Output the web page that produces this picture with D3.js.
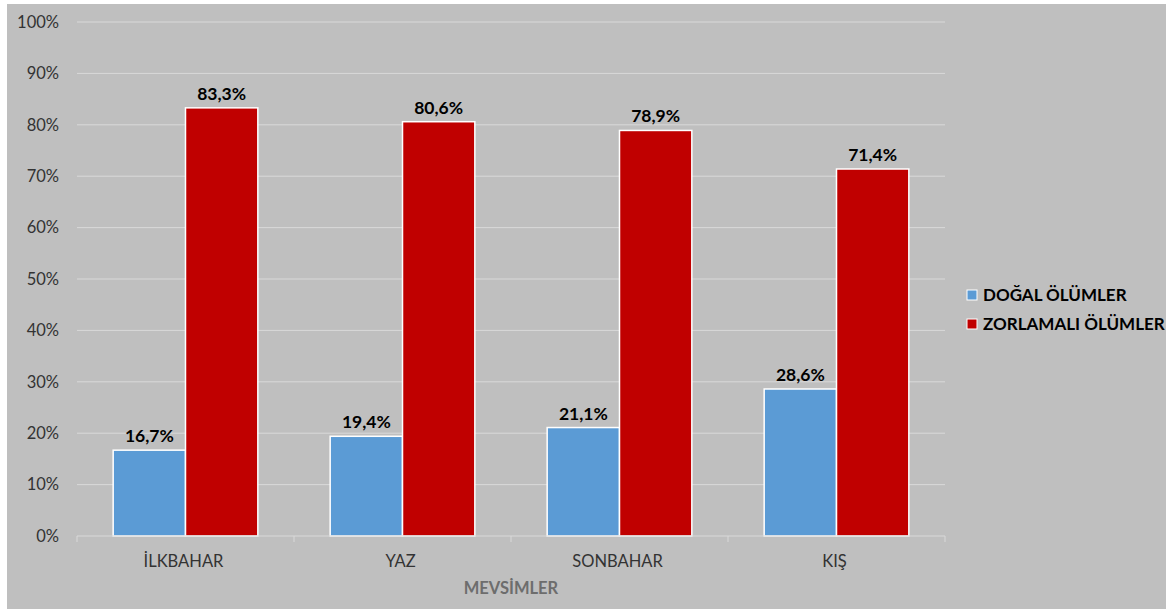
<!DOCTYPE html>
<html>
<head>
<meta charset="utf-8">
<script src="https://cdn.jsdelivr.net/npm/d3@7"></script>
<style>
  html, body { margin: 0; padding: 0; background: #ffffff; }
  svg { display: block; }
  text { font-family: Lato, "Open Sans", sans-serif; }
</style>
</head>
<body>
<svg id="chart" width="1166" height="611"></svg>
<script>
// Seasons and share of deaths by type (%)
const categories = ["İLKBAHAR", "YAZ", "SONBAHAR", "KIŞ"];
const seriesNames = ["DOĞAL ÖLÜMLER", "ZORLAMALI ÖLÜMLER"];
const naturalDeaths = [16.7, 19.4, 21.1, 28.6];
const forcedDeaths = [83.3, 80.6, 78.9, 71.4];
const yTicks = [0, 10, 20, 30, 40, 50, 60, 70, 80, 90, 100];
const colors = ["#5b9bd5", "#c00000"];

const series = [naturalDeaths, forcedDeaths];
const fmt = v => v.toFixed(1).replace(".", ",") + "%";

const svg = d3.select("#chart");

// chart area background
svg.append("rect")
  .attr("x", 7).attr("y", 4)
  .attr("width", 1159).attr("height", 605)
  .attr("fill", "#bfbfbf");

const plot = { left: 77, right: 945, top: 22, bottom: 536 };

const x = d3.scaleBand()
  .domain(categories)
  .range([plot.left, plot.right])
  .paddingInner(0)
  .paddingOuter(0);

const x1 = d3.scaleBand()
  .domain(d3.range(series.length))
  .range([0, x.bandwidth()])
  .paddingInner(0)
  .paddingOuter(0.5);

const y = d3.scaleLinear()
  .domain([0, 100])
  .range([plot.bottom, plot.top]);

// horizontal gridlines
svg.append("g")
  .selectAll("line")
  .data(yTicks.filter(t => t > 0))
  .join("line")
  .attr("x1", plot.left).attr("x2", plot.right)
  .attr("y1", d => y(d)).attr("y2", d => y(d))
  .attr("stroke", "#d9d9d9")
  .attr("stroke-width", 1);

// y axis labels
const yAxis = d3.axisLeft(y)
  .tickValues(yTicks)
  .tickFormat(d => d + "%")
  .tickSize(0)
  .tickPadding(18);

svg.append("g")
  .attr("transform", `translate(${plot.left},0)`)
  .call(yAxis)
  .call(g => g.select(".domain").remove())
  .call(g => g.selectAll("text")
    .attr("font-size", 16.5)
    .attr("fill", "#333333")
    .style("font-family", "Lato, 'Open Sans', sans-serif"));

// bars
const groups = svg.append("g")
  .selectAll("g")
  .data(categories)
  .join("g")
  .attr("transform", d => `translate(${x(d)},0)`);

groups.selectAll("rect")
  .data((d, i) => series.map((s, k) => ({ k, v: s[i] })))
  .join("rect")
  .attr("x", d => x1(d.k))
  .attr("width", x1.bandwidth())
  .attr("y", d => y(d.v))
  .attr("height", d => y(0) - y(d.v))
  .attr("fill", d => colors[d.k])
  .attr("stroke", "#ffffff")
  .attr("stroke-width", 1.5);

// value labels
groups.selectAll("text.val")
  .data((d, i) => series.map((s, k) => ({ k, v: s[i] })))
  .join("text")
  .attr("class", "val")
  .attr("x", d => x1(d.k) + x1.bandwidth() / 2)
  .attr("y", d => y(d.v) - 8)
  .attr("text-anchor", "middle")
  .attr("font-size", 17.5)
  .attr("font-weight", "bold")
  .attr("fill", "#000000")
  .text(d => fmt(d.v));

// x axis: baseline, category boundary ticks, labels
const xAxisG = svg.append("g");
xAxisG.append("line")
  .attr("x1", plot.left).attr("x2", plot.right)
  .attr("y1", plot.bottom).attr("y2", plot.bottom)
  .attr("stroke", "#d9d9d9").attr("stroke-width", 1);

const boundaries = categories.map(c => x(c)).concat([x(categories[categories.length - 1]) + x.bandwidth()]);
xAxisG.selectAll("line.tick")
  .data(boundaries)
  .join("line")
  .attr("class", "tick")
  .attr("x1", d => d).attr("x2", d => d)
  .attr("y1", plot.bottom).attr("y2", plot.bottom + 6)
  .attr("stroke", "#d9d9d9").attr("stroke-width", 1);

xAxisG.selectAll("text")
  .data(categories)
  .join("text")
  .attr("x", d => x(d) + x.bandwidth() / 2 - 2)
  .attr("y", 567)
  .attr("text-anchor", "middle")
  .attr("font-size", 16.5)
  .attr("fill", "#333333")
  .text(d => d);

// x axis title
svg.append("text")
  .attr("x", 511)
  .attr("y", 594)
  .attr("text-anchor", "middle")
  .attr("font-size", 16.5)
  .attr("font-weight", "bold")
  .attr("fill", "#6d6d6d")
  .text("MEVSİMLER");

// legend
const legend = svg.append("g").attr("transform", "translate(967,295)");
const items = legend.selectAll("g")
  .data(seriesNames)
  .join("g")
  .attr("transform", (d, i) => `translate(0,${i * 29})`);
items.append("rect")
  .attr("x", 0).attr("y", -5)
  .attr("width", 10).attr("height", 10)
  .attr("fill", (d, i) => colors[i])
  .attr("stroke", "#ffffff").attr("stroke-width", 1);
items.append("text")
  .attr("x", 16).attr("y", 0)
  .attr("dy", "0.35em")
  .attr("font-size", 17)
  .attr("font-weight", "bold")
  .attr("fill", "#000000")
  .text(d => d);
</script>
</body>
</html>
